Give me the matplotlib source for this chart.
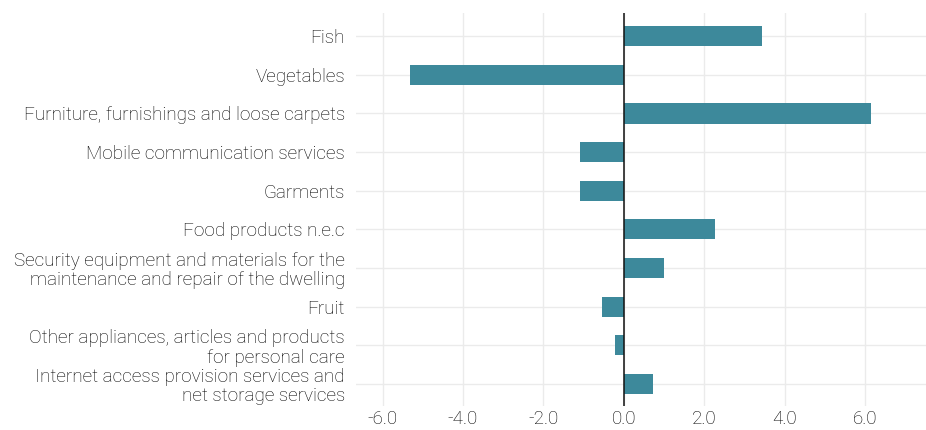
import matplotlib
matplotlib.use("Agg")
import matplotlib.pyplot as plt

categories = [
    "Fish",
    "Vegetables",
    "Furniture, furnishings and loose carpets",
    "Mobile communication services",
    "Garments",
    "Food products n.e.c",
    "Security equipment and materials for the\nmaintenance and repair of the dwelling",
    "Fruit",
    "Other appliances, articles and products\nfor personal care",
    "Internet access provision services and\nnet storage services",
]
values = [3.44, -5.32, 6.15, -1.09, -1.08, 2.27, 1.00, -0.54, -0.22, 0.73]
xticks = [-6.0, -4.0, -2.0, 0.0, 2.0, 4.0, 6.0]
xticklabels = ["-6.0", "-4.0", "-2.0", "0.0", "2.0", "4.0", "6.0"]

plt.rcParams['font.family'] = ['Roboto', 'DejaVu Sans']

fig = plt.figure(figsize=(9.26, 4.30), dpi=100)
ax = fig.add_axes([356/926, 1 - 406/430, (926-356)/926, (406-13)/430])

pos = list(range(len(categories)))
ax.barh(pos, values, height=0.52, color="#3d899b", zorder=2)
ax.axvline(0, color="#111111", linewidth=1.1, zorder=3)

ax.set_yticks(pos)
ax.set_yticklabels(categories, fontsize=13.6, fontweight='light', color="#000000",
                   linespacing=1.1)
ax.set_xticks(xticks)
ax.set_xticklabels(xticklabels, fontsize=13.6, fontweight='light', color="#000000")
ax.set_xlim(-6.66, 7.52)
ax.set_ylim(len(categories) - 0.43, -0.6)

ax.grid(True, color="#ebebeb", linewidth=1.0, zorder=0)
ax.set_axisbelow(True)
ax.tick_params(axis='both', length=0)
ax.tick_params(axis='y', pad=8)
ax.tick_params(axis='x', pad=3)
for s in ax.spines.values():
    s.set_visible(False)

fig.savefig("out.png", dpi=100)
